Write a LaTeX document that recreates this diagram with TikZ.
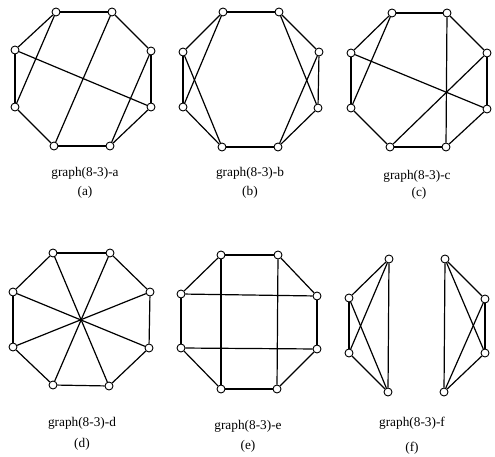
\documentclass[tikz,border=0pt]{standalone}
\usepackage{fontspec}
\setmainfont{Liberation Serif}
\tikzset{
  every vertex/.style={
    circle,
    draw,
    fill=white,
    inner sep=0pt,
    line width=0.9pt,
    minimum size=8pt
  },
  every caption/.style={
    inner sep=0pt,
    font=\fontsize{13.3}{16}\selectfont
  }
}
\begin{document}
\begin{tikzpicture}[x=1pt, y=-1pt, line width=1.2pt]
  \useasboundingbox (0,0) rectangle (495,457);
  % Graph (a)
  \node [every vertex] (a1) at (56,12) {};
  \node [every vertex] (a2) at (112,12) {};
  \node [every vertex] (a3) at (151,51) {};
  \node [every vertex] (a4) at (151,107) {};
  \node [every vertex] (a5) at (110,146) {};
  \node [every vertex] (a6) at (54,146) {};
  \node [every vertex] (a7) at (15,107) {};
  \node [every vertex] (a8) at (15,50) {};
  \node [every caption] (ta) at (85,173) {graph(8-3)-a};
  \node [every caption] (la) at (85,192) {(a)};

  % Graph (b)
  \node [every vertex] (b1) at (223,12) {};
  \node [every vertex] (b2) at (279,12) {};
  \node [every vertex] (b3) at (319,52) {};
  \node [every vertex] (b4) at (318,108) {};
  \node [every vertex] (b5) at (278,147) {};
  \node [every vertex] (b6) at (222,147) {};
  \node [every vertex] (b7) at (183,107) {};
  \node [every vertex] (b8) at (183,52) {};
  \node [every caption] (tb) at (250,173) {graph(8-3)-b};
  \node [every caption] (lb) at (250,192) {(b)};

  % Graph (c)
  \node [every vertex] (c1) at (392,13) {};
  \node [every vertex] (c2) at (447,13) {};
  \node [every vertex] (c3) at (487,53) {};
  \node [every vertex] (c4) at (487,109) {};
  \node [every vertex] (c5) at (446,147) {};
  \node [every vertex] (c6) at (390,147) {};
  \node [every vertex] (c7) at (351,108) {};
  \node [every vertex] (c8) at (351,53) {};
  \node [every caption] (tc) at (417,176) {graph(8-3)-c};
  \node [every caption] (lc) at (419,193) {(c)};

  % Graph (d)
  \node [every vertex] (d1) at (53,253) {};
  \node [every vertex] (d2) at (110,253) {};
  \node [every vertex] (d3) at (150,292) {};
  \node [every vertex] (d4) at (149,348) {};
  \node [every vertex] (d5) at (109,386) {};
  \node [every vertex] (d6) at (53,385) {};
  \node [every vertex] (d7) at (13,347) {};
  \node [every vertex] (d8) at (13,292) {};
  \node [every caption] (td) at (82,423) {graph(8-3)-d};
  \node [every caption] (ld) at (82,444) {(d)};

  % Graph (e)
  \node [every vertex] (e1) at (221,255) {};
  \node [every vertex] (e2) at (278,255) {};
  \node [every vertex] (e3) at (317,296) {};
  \node [every vertex] (e4) at (317,349) {};
  \node [every vertex] (e5) at (277,389) {};
  \node [every vertex] (e6) at (221,389) {};
  \node [every vertex] (e7) at (181,348) {};
  \node [every vertex] (e8) at (181,294) {};
  \node [every caption] (te) at (248,426) {graph(8-3)-e};
  \node [every caption] (le) at (248,446) {(e)};

  % Graph (f)
  \node [every vertex] (f1) at (389,259) {};
  \node [every vertex] (f2) at (349,298) {};
  \node [every vertex] (f3) at (349,353) {};
  \node [every vertex] (f4) at (388,392) {};
  \node [every vertex] (f5) at (445,259) {};
  \node [every vertex] (f6) at (485,299) {};
  \node [every vertex] (f7) at (485,353) {};
  \node [every vertex] (f8) at (444,392) {};
  \node [every caption] (tf) at (412,423) {graph(8-3)-f};
  \node [every caption] (lf) at (412,448) {(f)};

  % Edges (a)
  \draw (a1) -- (a2);
  \draw (a2) -- (a3);
  \draw (a3) -- (a4);
  \draw (a4) -- (a5);
  \draw (a5) -- (a6);
  \draw (a6) -- (a7);
  \draw (a7) -- (a8);
  \draw (a8) -- (a1);
  \draw (a1) -- (a7);
  \draw (a2) -- (a6);
  \draw (a8) -- (a4);
  \draw (a3) -- (a5);

  % Edges (b)
  \draw (b1) -- (b2);
  \draw (b2) -- (b3);
  \draw (b3) -- (b4);
  \draw (b4) -- (b5);
  \draw (b5) -- (b6);
  \draw (b6) -- (b7);
  \draw (b7) -- (b8);
  \draw (b8) -- (b1);
  \draw (b1) -- (b7);
  \draw (b8) -- (b6);
  \draw (b2) -- (b4);
  \draw (b3) -- (b5);

  % Edges (c)
  \draw (c1) -- (c2);
  \draw (c2) -- (c3);
  \draw (c3) -- (c4);
  \draw (c4) -- (c5);
  \draw (c5) -- (c6);
  \draw (c6) -- (c7);
  \draw (c7) -- (c8);
  \draw (c8) -- (c1);
  \draw (c1) -- (c7);
  \draw (c2) -- (c5);
  \draw (c8) -- (c4);
  \draw (c3) -- (c6);

  % Edges (d)
  \draw (d1) -- (d2);
  \draw (d2) -- (d3);
  \draw (d3) -- (d4);
  \draw (d4) -- (d5);
  \draw (d5) -- (d6);
  \draw (d6) -- (d7);
  \draw (d7) -- (d8);
  \draw (d8) -- (d1);
  \draw (d1) -- (d5);
  \draw (d2) -- (d6);
  \draw (d3) -- (d7);
  \draw (d4) -- (d8);

  % Edges (e)
  \draw (e1) -- (e2);
  \draw (e2) -- (e3);
  \draw (e3) -- (e4);
  \draw (e4) -- (e5);
  \draw (e5) -- (e6);
  \draw (e6) -- (e7);
  \draw (e7) -- (e8);
  \draw (e8) -- (e1);
  \draw (e1) -- (e6);
  \draw (e2) -- (e5);
  \draw (e8) -- (e3);
  \draw (e7) -- (e4);

  % Edges (f)
  \draw (f1) -- (f2);
  \draw (f1) -- (f3);
  \draw (f1) -- (f4);
  \draw (f2) -- (f3);
  \draw (f2) -- (f4);
  \draw (f3) -- (f4);
  \draw (f5) -- (f6);
  \draw (f5) -- (f7);
  \draw (f5) -- (f8);
  \draw (f6) -- (f7);
  \draw (f6) -- (f8);
  \draw (f7) -- (f8);
\end{tikzpicture}
\end{document}
